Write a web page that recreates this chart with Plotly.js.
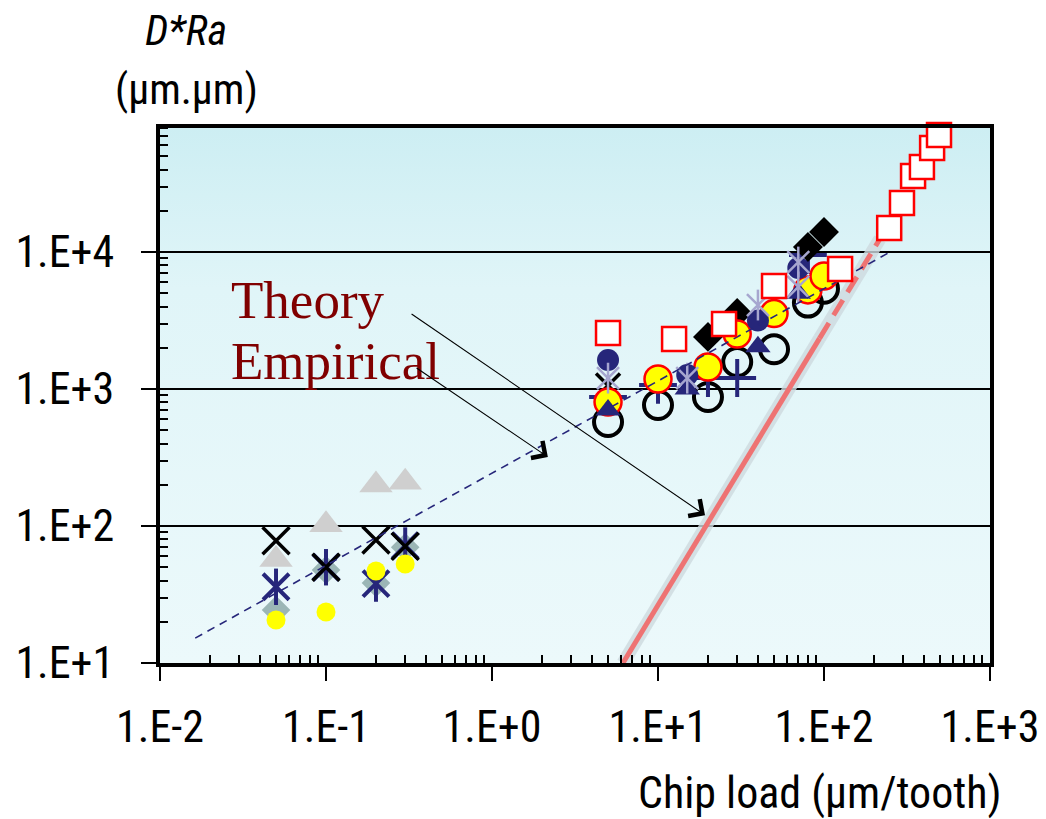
<!DOCTYPE html>
<html><head><meta charset="utf-8">
<script src="https://cdn.plot.ly/plotly-3.0.1.min.js"></script>
<style>html,body{margin:0;padding:0;background:#fff}</style>
</head><body><div id="chart" style="width:1046px;height:819px"></div>
<script>
// ---------- data ----------
const xTickVals = [0.01, 0.1, 1, 10, 100, 1000];
const xTickText = ['1.E-2', '1.E-1', '1.E+0', '1.E+1', '1.E+2', '1.E+3'];
const yTickVals = [10, 100, 1000, 10000];
const yTickText = ['1.E+1', '1.E+2', '1.E+3', '1.E+4'];
const minorSteps = [2, 3, 4, 5, 6, 7, 8, 9];
const xDecades = [0.01, 0.1, 1, 10, 100];
const yDecades = [10, 100, 1000, 10000];

// low chip-load cluster
const lowX = [0.05, 0.1, 0.2, 0.3];
const lowBlackXY = [78, 50, 79, 71];
const lowGrayTriY = [57, 102, 199, 209];
const lowNavyStarY = [36, 50, 38, 72];
const lowTealDiaY = [24.4, 47.7, 38.4, 70];
const lowYellowY = [20.6, 23.6, 47, 52.8];

// high chip-load cluster
const squareX = [5, 12.5, 25, 50, 125, 247, 295, 344, 389, 448, 493];
const squareY = [2565, 2317, 2980, 5650, 7520, 14960, 22800, 35900, 41700, 57400, 71400];
const openCircX = [5, 10, 20, 30, 50, 80, 100];
const openCircY = [574, 764, 874, 1575, 1950, 4270, 5400];
const yellowX = [5, 10, 20, 30, 50, 80, 100];
const yellowY = [803, 1183, 1448, 2520, 3550, 5290, 6680];
const navyCircX = [5, 15, 40, 70];
const navyCircY = [1630, 1265, 3160, 7640];
const navyTriX = [5, 15, 40, 70];
const navyTriY = [703, 1000, 2030, 5000];
const diamondX = [20, 30, 80, 100];
const diamondY = [2400, 3590, 10870, 14000];
const lightStarX = [5, 15, 40, 70, 70];
const lightStarY = [1200, 1200, 4100, 5560, 8450];
const navyPlusX = [5, 10, 20, 30, 80];
const navyPlusY = [875, 1070, 1203, 1203, 9500];
const midBlackXX = [5];
const midBlackXY = [1060];

// model lines
const theoryX = [0.0163, 250];
const theoryY = [15.2, 10000];
const empSolidX = [6.15, 94];
const empSolidY = [10, 2340];
const empDashX = [94, 217];
const empDashY = [2340, 12450];

// annotation arrows: [tailX, tailY, headX, headY]
const arrowTheory = [0.321, 3590, 19.2, 120];
const arrowEmpirical = [0.344, 1449, 2.17, 319];

// ---------- styling ----------
const NARROW = '"Liberation Sans Narrow", "Arial Narrow", "Roboto Condensed", "Liberation Sans", Arial, sans-serif';
const SERIF = '"Liberation Serif", "Times New Roman", serif';
const NAVY = '#26267a';

function sc(x, y, symbol, size, color, lw, extra) {
  const m = {symbol: symbol, size: size, color: color};
  if (lw !== undefined) m.line = Object.assign({width: lw}, extra || {});
  return {x: x, y: y, type: 'scatter', mode: 'markers', marker: m, hoverinfo: 'x+y', cliponaxis: false};
}

const traces = [
  // empirical line with pale halo
  {x: empSolidX, y: empSolidY, mode: 'lines', line: {color: 'rgba(205,218,222,0.8)', width: 13}},
  {x: empDashX, y: empDashY, mode: 'lines', line: {color: 'rgba(205,218,222,0.8)', width: 13}},
  {x: empSolidX, y: empSolidY, mode: 'lines', line: {color: '#ee7373', width: 5}},
  {x: empDashX, y: empDashY, mode: 'lines', line: {color: '#ee7373', width: 5, dash: '18px,9px'}},

  // low cluster
  sc(lowX, lowGrayTriY, 'triangle-up', 29, '#cfcfcf'),
  sc(lowX, lowTealDiaY, 'diamond', 22, '#9bb6b6'),
  sc(lowX, lowNavyStarY, 'x-thin-open', 26, NAVY, 4),
  sc(lowX, lowNavyStarY, 'line-ns-open', 26, NAVY, 4),
  sc(lowX, lowBlackXY, 'x-thin-open', 27, '#000000', 3.5),
  sc(lowX, lowYellowY, 'circle', 19, '#ffff00'),

  // high cluster
  sc(openCircX, openCircY, 'circle-open', 28, '#000000', 4),
  sc(navyPlusX, navyPlusY, 'cross-thin-open', 27, NAVY, 4),
  sc(midBlackXX, midBlackXY, 'x-thin-open', 24, '#000000', 3.5),
  sc(diamondX, diamondY, 'diamond', 23, '#000000'),
  sc(yellowX, yellowY, 'circle', 27, '#ffff00', 2.5, {color: '#ff0000'}),
  sc(navyTriX, navyTriY, 'triangle-up', 22, NAVY),
  sc(navyCircX, navyCircY, 'circle', 22, NAVY),
  sc(lightStarX, lightStarY, 'x-thin-open', 22, '#a6a6cf', 2.5),
  sc(lightStarX, lightStarY, 'line-ns-open', 22, '#a6a6cf', 2.5),

  // theory line
  {x: theoryX, y: theoryY, mode: 'lines', line: {color: NAVY, width: 1.6, dash: '8px,6px'}},

  sc(squareX, squareY, 'square', 24, '#ffffff', 2.5, {color: '#ff0000'})
];
traces.forEach(t => { t.type = 'scatter'; t.showlegend = false; });

// minor tick positions (2..9 within each decade)
const xMinor = [];
xDecades.forEach(d => minorSteps.forEach(s => xMinor.push(d * s)));
const yMinor = [];
yDecades.forEach(d => minorSteps.forEach(s => { if (d * s < 80500) yMinor.push(d * s); }));

// background gradient for plot area
const gradSvg = "<svg xmlns='http://www.w3.org/2000/svg' width='10' height='100' preserveAspectRatio='none'>" +
  "<defs><linearGradient id='g' x1='0' y1='0' x2='0' y2='1'>" +
  "<stop offset='0' stop-color='#cdeef3'/><stop offset='0.3' stop-color='#e0f5f8'/><stop offset='1' stop-color='#ecf9fb'/>" +
  "</linearGradient></defs><rect width='10' height='100' fill='url(#g)'/></svg>";
const gradURI = 'data:image/svg+xml;charset=utf-8,' + encodeURIComponent(gradSvg);

// pixel helpers for paper-positioned text
const M = {l: 160, r: 56, t: 128, b: 156};
const W = 1046, H = 819;
const PW = W - M.l - M.r, PH = H - M.t - M.b;
const px = v => (v - M.l) / PW;
const py = v => (H - M.b - v) / PH;

const L10 = Math.log10;

const layout = {
  width: W, height: H,
  margin: {l: M.l, r: M.r, t: M.t, b: M.b, pad: 0},
  paper_bgcolor: '#ffffff',
  plot_bgcolor: 'rgba(0,0,0,0)',
  showlegend: false,
  font: {family: NARROW, color: '#000'},
  images: [{source: gradURI, xref: 'paper', yref: 'paper', x: 0, y: 1, sizex: 1, sizey: 1,
            sizing: 'stretch', xanchor: 'left', yanchor: 'top', layer: 'below'}],
  xaxis: {
    type: 'log', range: [-2, 3], tickmode: 'array', tickvals: xTickVals, ticktext: xTickText,
    ticks: 'outside', ticklen: 14, tickwidth: 2, tickcolor: '#000',
    showline: true, linewidth: 4, linecolor: '#000', mirror: true,
    showgrid: false, zeroline: false,
    tickfont: {size: 44, family: NARROW, color: '#000'}, ticklabelstandoff: 8,
    minor: {tickmode: 'array', tickvals: xMinor, ticks: 'inside', ticklen: 8, tickwidth: 2, tickcolor: '#000', showgrid: false}
  },
  yaxis: {
    type: 'log', range: [1, 4.905], tickmode: 'array', tickvals: yTickVals, ticktext: yTickText,
    ticks: 'outside', ticklen: 15, tickwidth: 2, tickcolor: '#000',
    showline: true, linewidth: 4, linecolor: '#000', mirror: true,
    showgrid: true, gridcolor: '#000', gridwidth: 1.5, zeroline: false,
    tickfont: {size: 44, family: NARROW, color: '#000'}, ticklabelstandoff: 18,
    minor: {tickmode: 'array', tickvals: yMinor, ticks: 'inside', ticklen: 8, tickwidth: 2, tickcolor: '#000', showgrid: false}
  },
  annotations: [
    {text: '<i>D*Ra</i>', xref: 'paper', yref: 'paper', x: px(186), y: py(30), xanchor: 'center', yanchor: 'middle',
     showarrow: false, font: {size: 42, family: NARROW, color: '#000'}},
    {text: '(µm.µm)', xref: 'paper', yref: 'paper', x: px(186), y: py(89), xanchor: 'center', yanchor: 'middle',
     showarrow: false, font: {size: 42, family: NARROW, color: '#000'}},
    {text: 'Chip load (µm/tooth)', xref: 'paper', yref: 'paper', x: px(820), y: py(793), xanchor: 'center', yanchor: 'middle',
     showarrow: false, font: {size: 44, family: NARROW, color: '#000'}},
    {text: 'Theory', xref: 'paper', yref: 'paper', x: px(229), y: py(300), xanchor: 'left', yanchor: 'middle',
     showarrow: false, font: {size: 53, family: SERIF, color: '#800000'}},
    {text: 'Empirical', xref: 'paper', yref: 'paper', x: px(229), y: py(361), xanchor: 'left', yanchor: 'middle',
     showarrow: false, font: {size: 53, family: SERIF, color: '#800000'}},
    {text: '', xref: 'x', yref: 'y', axref: 'x', ayref: 'y',
     x: L10(arrowTheory[2]), y: L10(arrowTheory[3]), ax: L10(arrowTheory[0]), ay: L10(arrowTheory[1]),
     showarrow: true, arrowhead: 4, arrowsize: 3.6, arrowwidth: 1.1, arrowcolor: '#000', standoff: 0, startstandoff: 0},
    {text: '', xref: 'x', yref: 'y', axref: 'x', ayref: 'y',
     x: L10(arrowEmpirical[2]), y: L10(arrowEmpirical[3]), ax: L10(arrowEmpirical[0]), ay: L10(arrowEmpirical[1]),
     showarrow: true, arrowhead: 4, arrowsize: 3.6, arrowwidth: 1.1, arrowcolor: '#000', standoff: 0, startstandoff: 0}
  ]
};

Plotly.newPlot('chart', traces, layout, {displayModeBar: false, staticPlot: true});
</script>
</body></html>
